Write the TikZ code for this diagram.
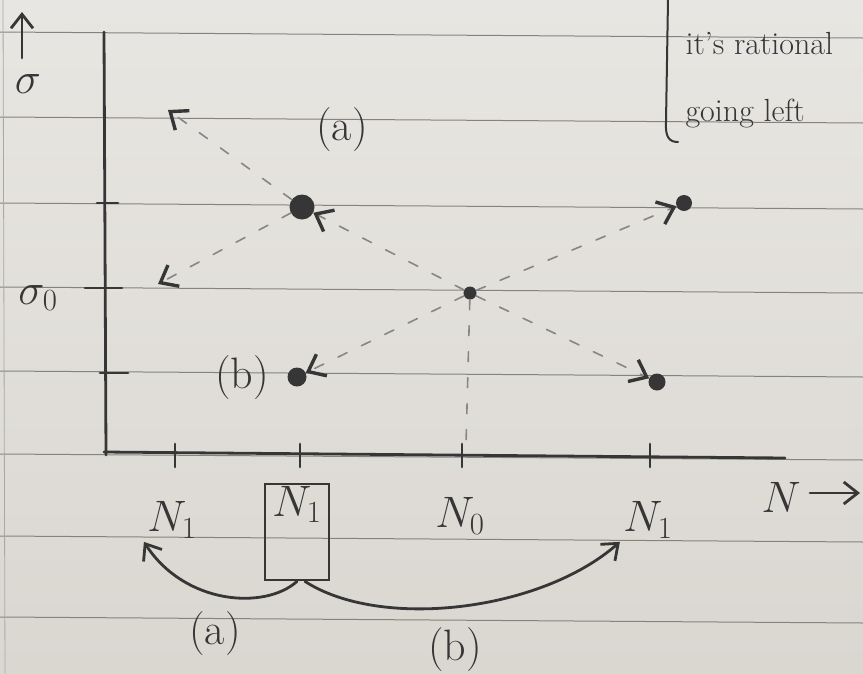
\RequirePackage{fix-cm}
\documentclass[tikz,border=0pt]{standalone}
\usetikzlibrary{arrows.meta}
\definecolor{paperlight}{HTML}{E8E6E2}
\definecolor{paperdark}{HTML}{DAD7D1}
\definecolor{pencil}{HTML}{363636}
\definecolor{ruling}{HTML}{858380}
\tikzset{
  pen/.style={draw=pencil, line width=2.8pt, line cap=round, line join=round},
  guide/.style={draw=pencil!60, line width=1.6pt, line cap=round, dash pattern=on 10pt off 16pt},
  dotmark/.style={circle, fill=pencil, inner sep=0pt, minimum size=#1},
  hand/.style={text=pencil, font=\fontsize{44}{46}\selectfont},
  note/.style={text=pencil, font=\fontsize{32}{34}\selectfont, anchor=west},
  tip/.style={-{Straight Barb[length=14pt,width=22pt,line width=2.8pt]}},
  tipguide/.style={-{Straight Barb[length=15pt,width=24pt,line width=3.4pt,color=pencil]}},
}
\begin{document}
\begin{tikzpicture}[x=1pt,y=-1pt]
  % sheet of ruled paper
  \useasboundingbox (0,0) rectangle (863,673);
  \clip (0,0) rectangle (863,673);
  \shade[top color=paperlight, bottom color=paperdark] (0,0) rectangle (863,673);
  \foreach \y in {32,117,203,287,371,454,536,617}
    \draw[ruling, line width=1pt] (0,\y) -- (863,\y+6);
  \draw[ruling!70, line width=0.8pt] (3,0) -- (5,673);

  % axes
  \draw[pen] (104,32) -- (106,455);
  \draw[pen] (104,452) -- (785,458);
  \draw[pen] (97,203) -- (118,203);
  \draw[pen] (85,288) -- (122,288);
  \draw[pen] (100,373) -- (128,373);
  \foreach \x in {175,300,462,650}
    \draw[pen] (\x,444) -- (\x,467);

  % axis labels
  \draw[pen, tip] (22,58) -- (22,12);
  \node[hand] (sig) at (28,84) {$\sigma$};
  \node[hand] (sig0) at (38,298) {$\sigma_{0}$};
  \node[hand, anchor=west] (nlab) at (758,497) {$N$};
  \coordinate (nfrom) at (810,493);
  \coordinate (nto) at (860,493);
  \draw[pen, tip] (nfrom) -- (nto);

  % states
  \node[dotmark=25pt] (pa) at (302,207) {};
  \node[dotmark=19pt] (pb) at (297,377) {};
  \node[dotmark=13pt] (p0) at (470,293) {};
  \node[dotmark=16pt] (pu) at (684,203) {};
  \node[dotmark=17pt] (pd) at (657,382) {};
  \coordinate (ul) at (168,110);
  \coordinate (ll) at (158,284);
  \coordinate (n0tick) at (466,445);

  \node[hand] (la) at (342,130) {(a)};
  \node[hand] (lb) at (242,378) {(b)};

  % possible moves
  \draw[guide, tipguide] (pa) -- (ul);
  \draw[guide, tipguide] (pa) -- (ll);
  \draw[guide, tipguide] (p0) -- (pa);
  \draw[guide, tipguide] (p0) -- (pb);
  \draw[guide, tipguide] (p0) -- (pu);
  \draw[guide, tipguide] (p0) -- (pd);
  \draw[guide] (p0) -- (n0tick);

  % side remark
  \draw[draw=pencil, line width=2pt, line cap=round] (668,0) -- (666,122) .. controls (665,138) and (670,142) .. (678,142);
  \node[note] (r1) at (682,44) {it's rational};
  \node[note] (r2) at (682,114) {going left};

  % labels under the axis
  \node[hand] (n1a) at (172,520) {$N_1$};
  \node[draw=pencil, line width=2.8pt, minimum width=64pt, minimum height=96pt, inner sep=0pt] (box) at (297,532) {};
  \node[hand, below=0pt] (n1b) at (box.north) {$N_1$};
  \node[hand] (n0) at (460,516) {$N_0$};
  \node[hand] (n1c) at (648,520) {$N_1$};

  % the two jumps
  \draw[pen, tip] (box.south) .. controls (265,610) and (185,605) .. (n1a.south west);
  \draw[pen, tip] ([xshift=8pt]box.south) .. controls (380,630) and (540,612) .. (n1c.south west);
  \node[hand] (ja) at (215,634) {(a)};
  \node[hand] (jb) at (455,650) {(b)};
\end{tikzpicture}
\end{document}
